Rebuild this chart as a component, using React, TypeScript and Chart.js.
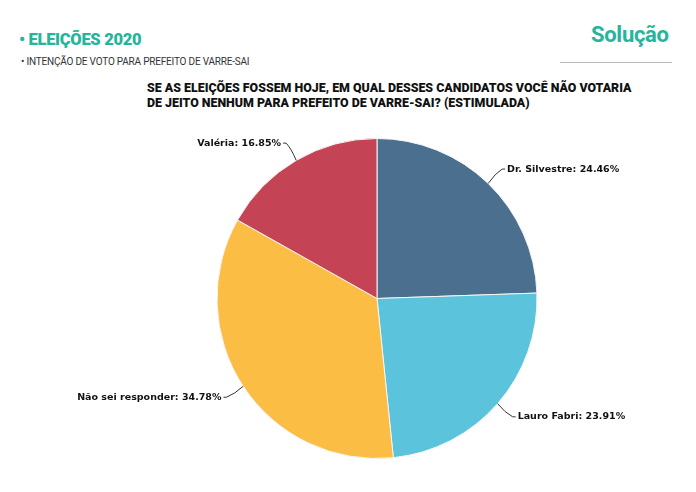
import { useEffect, useRef } from "react"
import { Chart, registerables, Plugin } from "chart.js"

Chart.register(...registerables)

const candidates = ["Dr. Silvestre", "Lauro Fabri", "Não sei responder", "Valéria"]
const shares = [24.46, 23.91, 34.78, 16.85]
const sliceColors = ["#4a6f8f", "#5bc3dc", "#fcbd45", "#c44455"]

// draws "Name: xx.xx%" outside each slice with a curved leader line
const outsideLabels: Plugin<"pie"> = {
  id: "outsideLabels",
  afterDatasetsDraw(chart) {
    const ctx = chart.ctx
    const meta = chart.getDatasetMeta(0)
    ctx.save()
    ctx.font = "bold 9.5px 'DejaVu Sans', Verdana, sans-serif"
    ctx.fillStyle = "#111"
    ctx.strokeStyle = "#333"
    ctx.lineWidth = 1
    ctx.textBaseline = "middle"
    meta.data.forEach((el: any, i) => {
      const { x, y, outerRadius, startAngle, endAngle } = el.getProps(
        ["x", "y", "outerRadius", "startAngle", "endAngle"],
        true
      )
      const mid = (startAngle + endAngle) / 2
      const cos = Math.cos(mid)
      const sin = Math.sin(mid)
      const x0 = x + cos * outerRadius
      const y0 = y + sin * outerRadius
      const x1 = x + cos * (outerRadius + 20)
      const y1 = y + sin * (outerRadius + 20)
      const right = cos >= 0
      const cx = x + cos * (outerRadius + 10)
      const cy = y + sin * (outerRadius + 14)
      ctx.beginPath()
      ctx.moveTo(x0, y0)
      ctx.quadraticCurveTo(cx, cy, x1, y1)
      ctx.lineTo(x1 + (right ? 3 : -3), y1)
      ctx.stroke()
      ctx.textAlign = right ? "left" : "right"
      const label = `${candidates[i]}: ${shares[i].toFixed(2)}%`
      ctx.fillText(label, x1 + (right ? 5 : -5), y1)
    })
    ctx.restore()
  },
}

export default function App() {
  const chartRef = useRef<HTMLCanvasElement>(null)
  const chartInstance = useRef<Chart | null>(null)

  useEffect(() => {
    if (!chartRef.current) return
    if (chartInstance.current) chartInstance.current.destroy()
    const ctx = chartRef.current.getContext("2d")
    if (!ctx) return

    chartInstance.current = new Chart(ctx, {
      type: "pie",
      data: {
        labels: candidates,
        datasets: [
          {
            data: shares,
            backgroundColor: sliceColors,
            borderColor: "#f4f4f4",
            borderWidth: 1,
          },
        ],
      },
      options: {
        animation: false,
        responsive: true,
        maintainAspectRatio: false,
        layout: { padding: { top: 138, bottom: 33, left: 216, right: 158 } },
        plugins: {
          legend: { display: false },
          tooltip: { enabled: false },
        },
      },
      plugins: [outsideLabels],
    })

    return () => {
      if (chartInstance.current) chartInstance.current.destroy()
    }
  }, [])

  const teal = "#24b59c"

  return (
    <div
      style={{
        position: "absolute",
        left: 0,
        top: 0,
        width: 696,
        height: 492,
        background: "#fff",
        fontFamily: "Roboto, 'Noto Sans', sans-serif",
        overflow: "hidden",
      }}
    >
      <div style={{ position: "absolute", left: 19, top: 30, color: teal, fontWeight: 900, fontSize: 16.5, letterSpacing: -0.3 }}>
        • ELEIÇÕES 2020
      </div>
      <div style={{ position: "absolute", left: 21, top: 56, color: "#333", fontSize: 10, letterSpacing: -0.2 }}>
        • INTENÇÃO DE VOTO PARA PREFEITO DE VARRE-SAI
      </div>
      <div style={{ position: "absolute", left: 591, top: 22, color: teal, fontWeight: 700, fontSize: 22, letterSpacing: -0.3 }}>
        Solução
      </div>
      <div style={{ position: "absolute", left: 560, top: 62, width: 112, height: 1, background: "#bbb" }} />
      <div
        style={{
          position: "absolute",
          left: 147,
          top: 80,
          color: "#111",
          fontWeight: 900,
          fontSize: 12.4,
          lineHeight: "15px",
          letterSpacing: 0,
        }}
      >
        SE AS ELEIÇÕES FOSSEM HOJE, EM QUAL DESSES CANDIDATOS VOCÊ NÃO VOTARIA
        <br />
        DE JEITO NENHUM PARA PREFEITO DE VARRE-SAI? (ESTIMULADA)
      </div>
      <div style={{ position: "absolute", left: 0, top: 0, width: 696, height: 492 }}>
        <canvas ref={chartRef}></canvas>
      </div>
    </div>
  )
}
